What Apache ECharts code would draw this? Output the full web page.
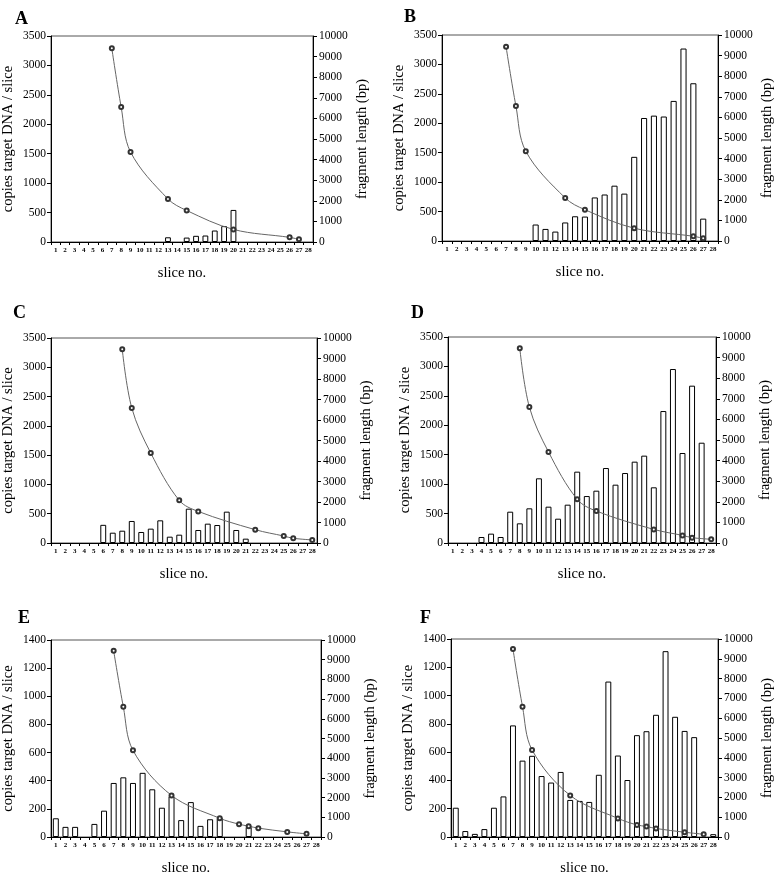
<!DOCTYPE html>
<html>
<head>
<meta charset="utf-8">
<script src="https://cdn.jsdelivr.net/npm/echarts@6/dist/echarts.min.js"></script>
<style>
html,body{margin:0;padding:0;background:#fff;}
#chart{width:776px;height:877px;}
</style>
</head>
<body>
<div id="chart"></div>
<script>
// ---- data ----
const slices = ['1','2','3','4','5','6','7','8','9','10','11','12','13','14','15','16','17','18','19','20','21','22','23','24','25','26','27','28'];
const panelLetters = ['A','B','C','D','E','F'];
const copiesMaxAD = 3500, copiesStepAD = 500;
const copiesMaxEF = 1400, copiesStepEF = 200;
const fragMax = 10000, fragStep = 1000;

// bar values (copies target DNA / slice), keyed by slice number
const barsA = {13:80, 15:75, 16:105, 17:110, 18:195, 19:270, 20:545};
const barsB = {10:280, 11:205, 12:160, 13:315, 14:420, 15:415, 16:740, 17:790, 18:940, 19:805, 20:1430, 21:2090, 22:2130, 23:2115, 24:2380, 25:3270, 26:2680, 27:380};
const barsC = {6:310, 7:176, 8:210, 9:376, 10:188, 11:245, 12:387, 13:108, 14:142, 15:586, 16:222, 17:330, 18:307, 19:535, 20:222, 21:74};
const barsD = {4:102, 5:159, 6:102, 7:532, 8:334, 9:589, 10:1099, 11:617, 12:413, 13:651, 14:1212, 15:798, 16:889, 17:1274, 18:991, 19:1189, 20:1382, 21:1484, 22:946, 23:2242, 24:2956, 25:1529, 26:2673, 27:1704};
const barsE = {1:133, 2:72, 3:72, 5:93, 6:187, 7:384, 8:424, 9:384, 10:456, 11:339, 12:208, 13:289, 14:120, 15:248, 16:79, 17:126, 18:135, 21:70};
const barsF = {1:207, 2:42, 3:22, 4:56, 5:207, 6:287, 7:789, 8:540, 9:574, 10:431, 11:385, 12:460, 13:262, 14:255, 15:248, 16:440, 17:1099, 18:576, 19:403, 20:720, 21:748, 22:864, 23:1314, 24:850, 25:750, 26:706, 28:20};

// fragment length markers (bp)
const markSlicesA = [7,8,9,13,15,20,26,27];
const fragA = [9400,6550,4370,2090,1530,610,225,130];
const markSlicesB = [7,8,9,13,15,20,26,27];
const fragB = [9430,6550,4360,2090,1520,620,230,130];
const markSlicesC = [8,9,11,14,16,22,25,26,28];
const fragC = [9450,6590,4390,2080,1540,650,340,230,150];
const markSlicesD = [8,9,11,14,16,22,25,26,28];
const fragD = [9450,6600,4420,2120,1550,660,370,260,180];
const markSlicesE = [7,8,9,13,18,20,21,22,25,27];
const fragE = [9450,6610,4400,2110,950,650,550,450,260,160];
const markSlicesF = [7,8,9,13,18,20,21,22,25,27];
const fragF = [9490,6580,4400,2100,940,610,530,430,240,140];

// ---- layout ----
const grids = [
  {left:49, top:36, width:264, height:206},
  {left:442, top:35, width:278, height:206},
  {left:48, top:338, width:269, height:205},
  {left:448, top:337, width:268, height:206},
  {left:49, top:640, width:272, height:206},
  {left:451, top:639, width:272, height:205}
];
const letterPos = [[10,5],[399,3],[8,299],[406,299],[13,604],[415,604]];

const barSets = [barsA,barsB,barsC,barsD,barsE,barsF];
const markSets = [[markSlicesA,fragA],[markSlicesB,fragB],[markSlicesC,fragC],[markSlicesD,fragD],[markSlicesE,fragE],[markSlicesF,fragF]];

const FONT = 'Liberation Serif';
const plain = v => String(v);
const option = {
  backgroundColor:'#fff',
  animation:false,
  textStyle:{fontFamily:FONT, color:'#000'},
  title: panelLetters.map((t,i)=>({text:t, left:letterPos[i][0], top:letterPos[i][1], textStyle:{fontFamily:FONT, fontWeight:'bold', fontSize:18, color:'#000'}})),
  grid: grids.map(g=>Object.assign({show:true, borderColor:'#555', borderWidth:1, containLabel:false}, g)),
  xAxis: grids.map((g,i)=>({
    type:'category', gridIndex:i, data:slices, boundaryGap:true,
    name:'slice no.', nameLocation:'middle', nameGap:24,
    nameTextStyle:{fontFamily:FONT, fontSize:14.5, color:'#000'},
    axisLine:{lineStyle:{color:'#000', width:1}},
    axisTick:{show:true, length:3, lineStyle:{color:'#000'}},
    axisLabel:{interval:0, fontSize:7, fontWeight:'bold', fontFamily:FONT, color:'#000', margin:5},
    splitLine:{show:false}
  })),
  yAxis: [],
  series: []
};

grids.forEach((g,i)=>{
  const ef = i>=4;
  option.yAxis.push({
    type:'value', gridIndex:i, position:'left', min:0,
    max: ef?copiesMaxEF:copiesMaxAD, interval: ef?copiesStepEF:copiesStepAD,
    name:'copies target DNA / slice', nameLocation:'middle', nameGap:35,
    nameTextStyle:{fontFamily:FONT, fontSize:14.5, color:'#000'},
    axisLine:{show:true, lineStyle:{color:'#000'}},
    axisTick:{show:true, length:4, lineStyle:{color:'#000'}},
    axisLabel:{fontFamily:FONT, fontSize:11.5, color:'#000', margin:5, formatter:plain},
    splitLine:{show:false}
  });
  option.yAxis.push({
    type:'value', gridIndex:i, position:'right', min:0, max:fragMax, interval:fragStep,
    name:'fragment length (bp)', nameLocation:'middle', nameGap:42,
    nameTextStyle:{fontFamily:FONT, fontSize:14.5, color:'#000'},
    axisLine:{show:true, lineStyle:{color:'#000'}},
    axisTick:{show:true, length:4, lineStyle:{color:'#000'}},
    axisLabel:{fontFamily:FONT, fontSize:11.5, color:'#000', margin:6, formatter:plain},
    splitLine:{show:false}
  });
  const bs = barSets[i];
  option.series.push({
    type:'bar', xAxisIndex:i, yAxisIndex:2*i,
    data: slices.map(s=> (bs[+s]!==undefined ? bs[+s] : null)),
    barWidth:'62%',
    itemStyle:{color:'#fff', borderColor:'#000', borderWidth:1}
  });
  const [ms, fr] = markSets[i];
  option.series.push({
    type:'line', xAxisIndex:i, yAxisIndex:2*i+1,
    data: ms.map((s,k)=>[String(s), fr[k]]),
    smooth:0.35,
    symbol:'emptyCircle', symbolSize:4,
    lineStyle:{color:'#666', width:1},
    itemStyle:{color:'#333', borderColor:'#333', borderWidth:1},
    z:5
  });
});

const chart = echarts.init(document.getElementById('chart'), null, {renderer:'canvas'});
chart.setOption(option);
</script>
</body>
</html>
